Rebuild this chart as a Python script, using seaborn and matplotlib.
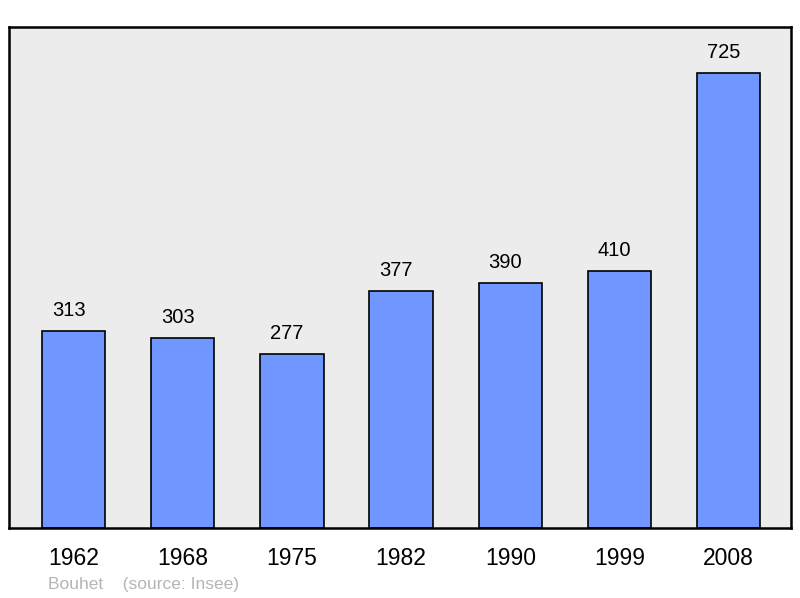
import matplotlib
matplotlib.use('Agg')
import matplotlib.pyplot as plt
import seaborn as sns
import pandas as pd

# Population data (source: Insee)
years = ['1962', '1968', '1975', '1982', '1990', '1999', '2008']
population = [313, 303, 277, 377, 390, 410, 725]

df = pd.DataFrame({'Year': years, 'Population': population})

sns.set_style('white')
plt.rcParams['font.family'] = ['Liberation Sans', 'DejaVu Sans']
plt.rcParams['text.color'] = 'black'
plt.rcParams['xtick.color'] = 'black'

fig = plt.figure(figsize=(8, 5.98), dpi=100)
ax = fig.add_axes([9 / 800, 1 - 528 / 598, 782 / 800, 501 / 598])
ax.set_facecolor('#ececec')

sns.barplot(data=df, x='Year', y='Population', color='#7097ff', saturation=1,
            width=0.58, edgecolor='black', linewidth=1.2, ax=ax)

# Value labels above bars (sit a little left of the bar centre)
for i, v in enumerate(population):
    ax.text(i - 0.045, v + 24, str(v), ha='center', va='baseline', fontsize=14.5,
            color='black')

ax.set_xlim(-0.59, 6.57)
ax.set_ylim(0, 798)
ax.set_yticks([])
ax.set_xlabel('')
ax.set_ylabel('')
ax.tick_params(axis='x', length=0, labelsize=16.5, pad=14, labelcolor='black')

for spine in ax.spines.values():
    spine.set_visible(True)
    spine.set_color('black')
    spine.set_linewidth(1.8)

fig.text(48 / 800, 1 - 584 / 598, 'Bouhet    (source: Insee)', color='#b5b5b5',
         fontsize=12.5, ha='left', va='center')

fig.savefig('out.png', dpi=100)
